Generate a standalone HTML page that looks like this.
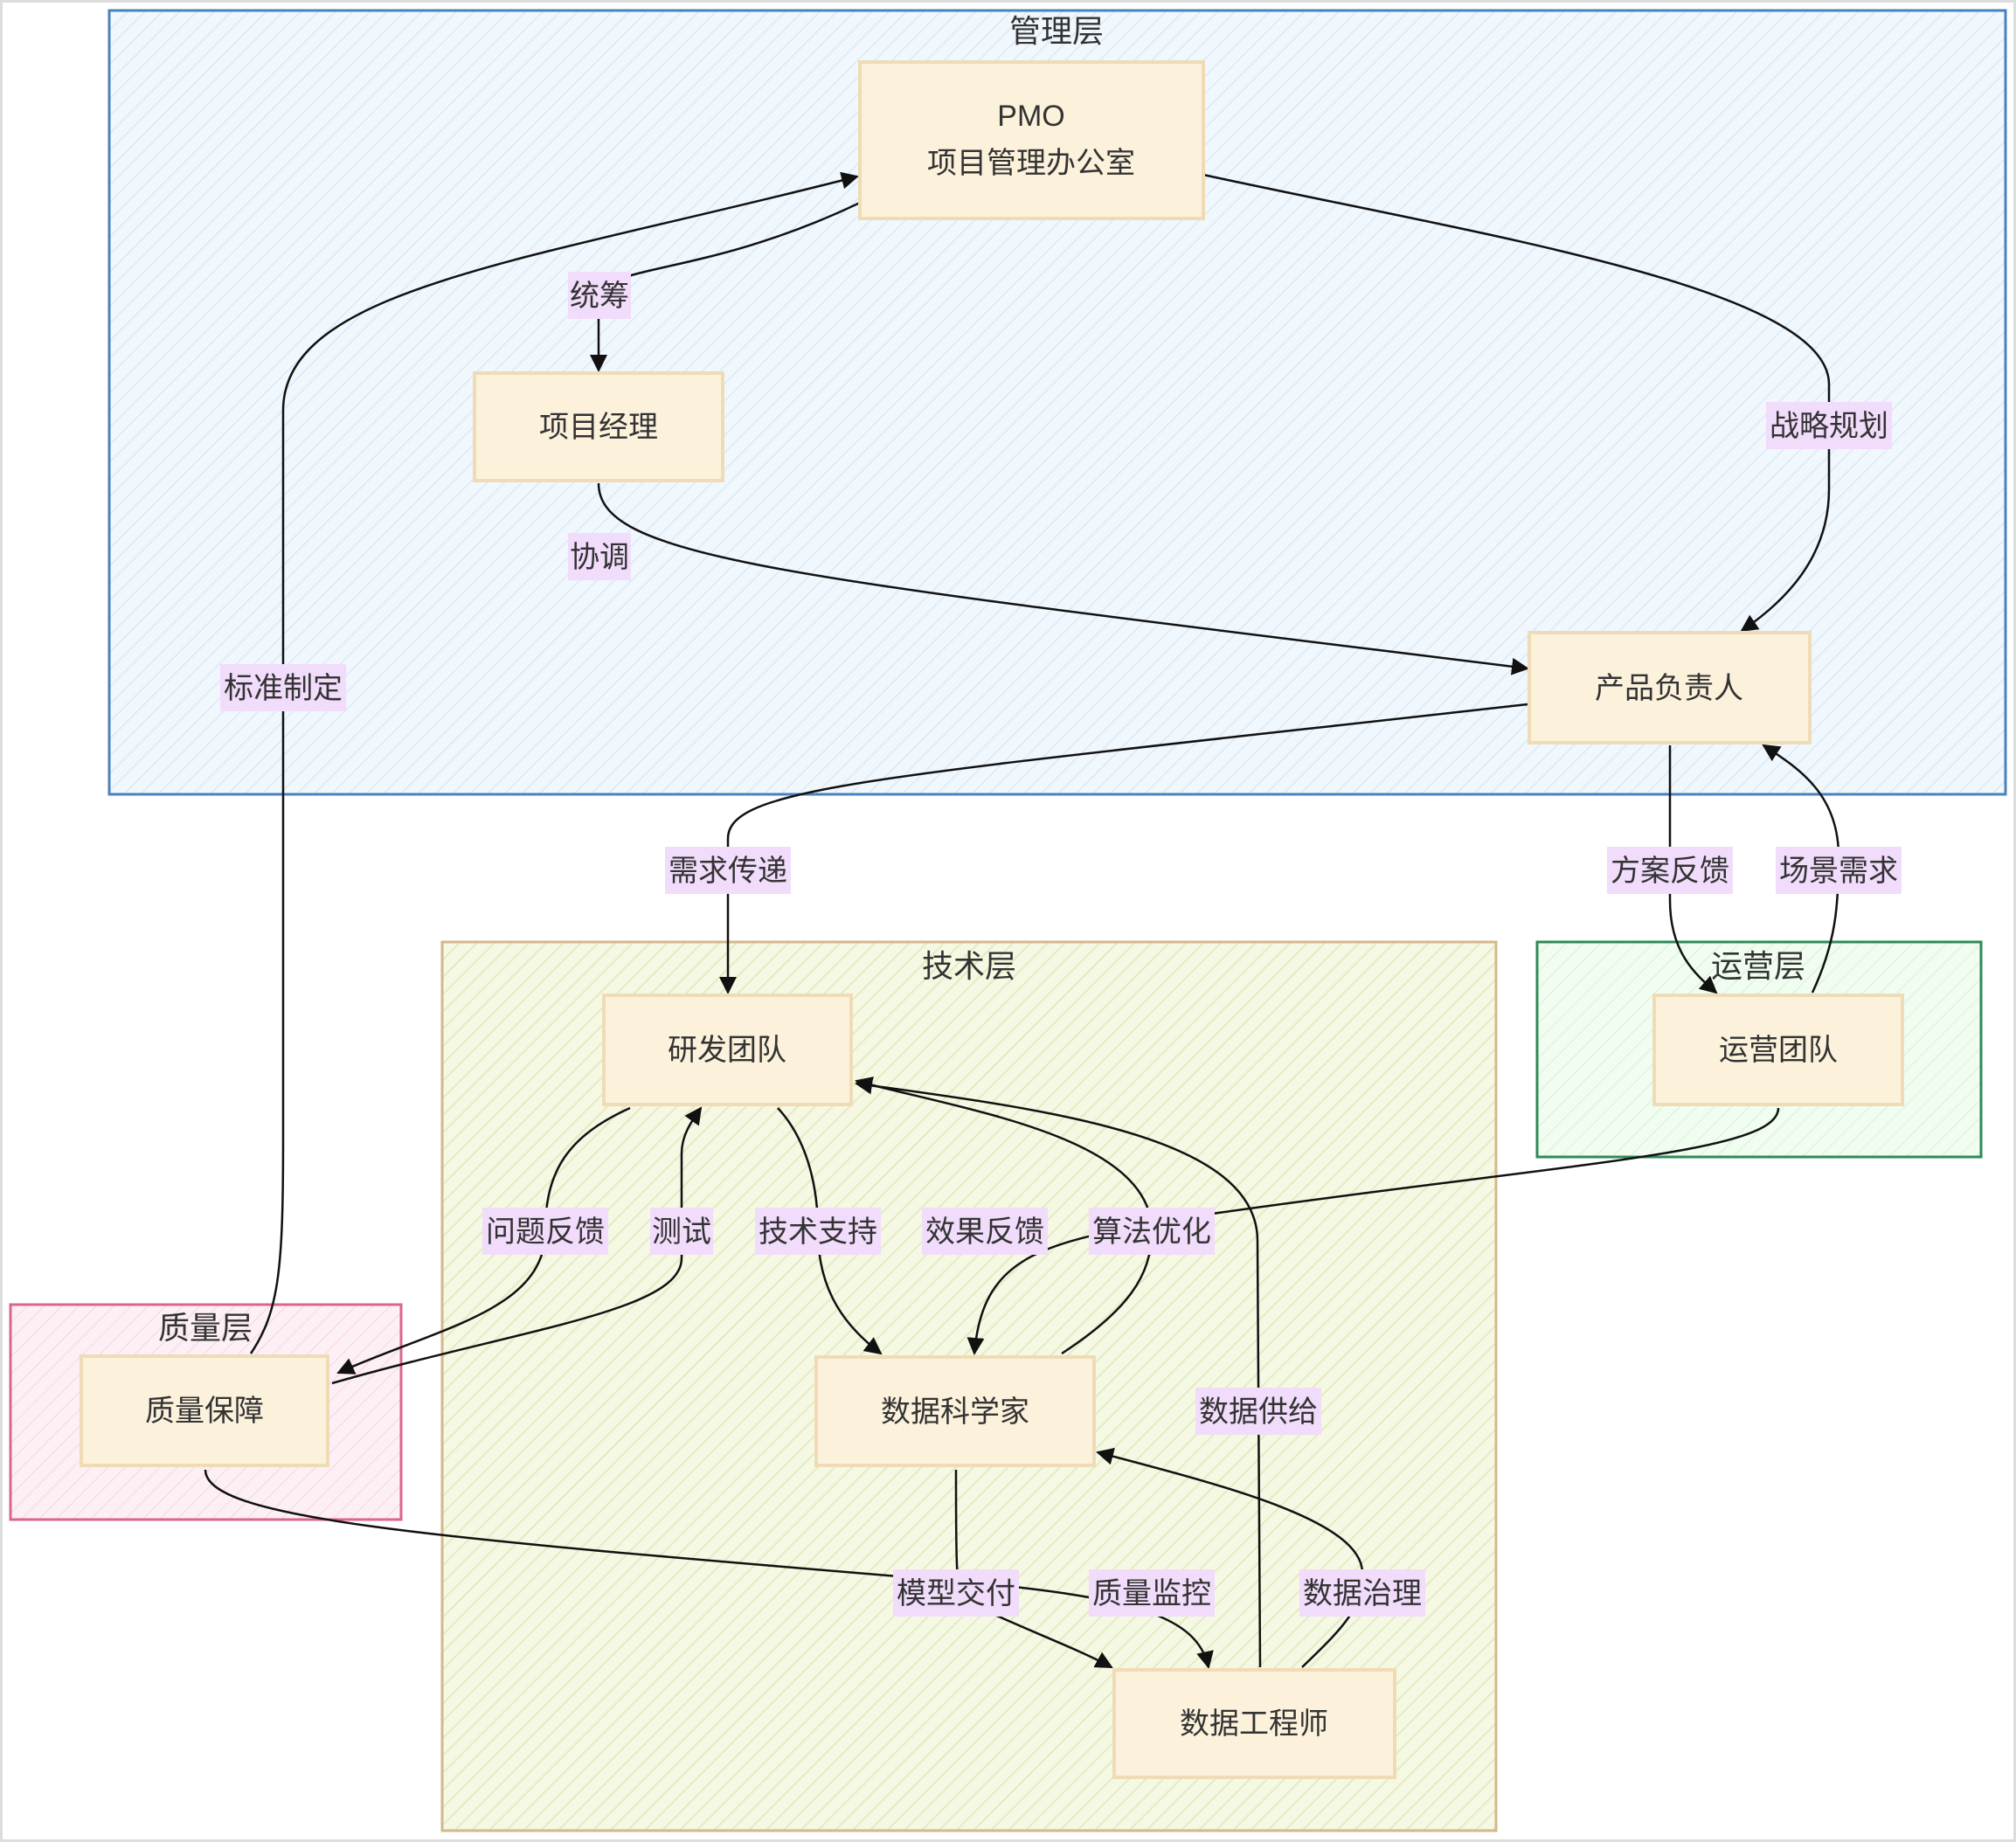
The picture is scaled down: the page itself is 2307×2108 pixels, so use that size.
<!DOCTYPE html>
<html><head><meta charset="utf-8"><style>
html,body{margin:0;padding:0;background:#fff}
svg{display:block}
text{font-family:"Liberation Sans","Noto Sans CJK SC",sans-serif;fill:#333}
</style></head><body>
<svg width="2307" height="2108" viewBox="0 0 2307 2108" xmlns="http://www.w3.org/2000/svg">
<defs>
<pattern id="hb" width="14" height="14" patternUnits="userSpaceOnUse" patternTransform="rotate(45)"><rect width="14" height="14" fill="#f0f7fd"/><line x1="0" y1="0" x2="0" y2="14" stroke="#dbeaf7" stroke-width="3"/></pattern>
<pattern id="hy" width="14" height="14" patternUnits="userSpaceOnUse" patternTransform="rotate(45)"><rect width="14" height="14" fill="#f5f8e2"/><line x1="0" y1="0" x2="0" y2="14" stroke="#e4ebc4" stroke-width="4"/></pattern>
<pattern id="hg" width="14" height="14" patternUnits="userSpaceOnUse" patternTransform="rotate(45)"><rect width="14" height="14" fill="#f0fdf0"/><line x1="0" y1="0" x2="0" y2="14" stroke="#ddf5dd" stroke-width="3"/></pattern>
<pattern id="hp" width="14" height="14" patternUnits="userSpaceOnUse" patternTransform="rotate(45)"><rect width="14" height="14" fill="#fdf0f5"/><line x1="0" y1="0" x2="0" y2="14" stroke="#f7dce8" stroke-width="3"/></pattern>
<marker id="a" viewBox="0 0 10 10" refX="9" refY="5" markerWidth="20" markerHeight="20" markerUnits="userSpaceOnUse" orient="auto"><path d="M0,0 L10,5 L0,10 z" fill="#111"/></marker>
</defs>
<rect x="0" y="0" width="2307" height="2108" fill="#fff" stroke="#ddd" stroke-width="6"/>
<rect x="125" y="12" width="2170" height="897" fill="url(#hb)" stroke="#4a82bd" stroke-width="3"/>
<text x="1209" y="48" font-size="36" text-anchor="middle" fill="#111">管理层</text>
<rect x="506" y="1078" width="1206" height="1017" fill="url(#hy)" stroke="#d2b98a" stroke-width="3"/>
<text x="1109" y="1118" font-size="36" text-anchor="middle" fill="#111">技术层</text>
<rect x="1759" y="1078" width="508" height="246" fill="url(#hg)" stroke="#2e8a57" stroke-width="3"/>
<text x="2012" y="1118" font-size="36" text-anchor="middle" fill="#111">运营层</text>
<rect x="12" y="1493" width="447" height="246" fill="url(#hp)" stroke="#d9668f" stroke-width="3"/>
<text x="235" y="1532" font-size="36" text-anchor="middle" fill="#111">质量层</text>
<g fill="none" stroke="#111" stroke-width="2.5">
<path d="M984,232 C800,320 685,300 685,345 L685,424" marker-end="url(#a)"/>
<path d="M685,553 C685,640 900,660 1748,765" marker-end="url(#a)"/>
<path d="M1377,200 C1700,270 2093,330 2093,440 L2093,560 C2093,640 2040,690 1993,722" marker-end="url(#a)"/>
<path d="M287,1549 C320,1500 324,1450 324,1300 L324,470 C324,330 600,300 981,202" marker-end="url(#a)"/>
<path d="M1748,806 C1000,890 833,900 833,960 L833,1136" marker-end="url(#a)"/>
<path d="M1911,853 L1911,1030 C1911,1090 1940,1115 1964,1136" marker-end="url(#a)"/>
<path d="M2074,1136 C2100,1080 2104,1040 2104,980 C2104,910 2060,880 2018,853" marker-end="url(#a)"/>
<path d="M721,1268 C650,1300 624,1340 624,1409 C624,1500 500,1520 387,1571" marker-end="url(#a)"/>
<path d="M380,1583 C600,1520 780,1500 780,1440 L780,1320 C780,1300 790,1285 802,1268" marker-end="url(#a)"/>
<path d="M890,1268 C920,1300 936,1350 936,1409 C936,1480 970,1520 1008,1549" marker-end="url(#a)"/>
<path d="M2035,1268 C2035,1320 1800,1330 1380,1390 C1200,1420 1125,1430 1115,1549" marker-end="url(#a)"/>
<path d="M1215,1549 C1290,1500 1318,1460 1318,1409 C1318,1300 1100,1270 980,1237" marker-end="url(#a)"/>
<path d="M1442,1908 L1439,1420 C1439,1300 1200,1270 980,1240" marker-end="url(#a)"/>
<path d="M1094,1682 C1094,1760 1094,1823 1100,1830 C1160,1860 1230,1885 1272,1908" marker-end="url(#a)"/>
<path d="M235,1682 C235,1740 500,1760 1100,1810 C1300,1828 1370,1850 1383,1908" marker-end="url(#a)"/>
<path d="M1490,1908 C1540,1860 1559,1840 1559,1800 C1559,1740 1400,1700 1256,1662" marker-end="url(#a)"/>
</g>
<g fill="#fcf2dc" stroke="#efdcb6" stroke-width="4">
<rect x="984" y="71" width="393" height="179"/>
<rect x="543" y="427" width="284" height="123"/>
<rect x="1750" y="724" width="321" height="126"/>
<rect x="691" y="1139" width="283" height="125"/>
<rect x="1893" y="1139" width="284" height="125"/>
<rect x="93" y="1552" width="282" height="125"/>
<rect x="934" y="1553" width="318" height="124"/>
<rect x="1275" y="1911" width="321" height="123"/>
</g>
<g font-size="34" text-anchor="middle">
<text x="1180" y="144">PMO</text>
<text x="1180" y="198">项目管理办公室</text>
<text x="685" y="500">项目经理</text>
<text x="1910" y="799">产品负责人</text>
<text x="832" y="1213">研发团队</text>
<text x="2035" y="1213">运营团队</text>
<text x="234" y="1626">质量保障</text>
<text x="1093" y="1627">数据科学家</text>
<text x="1435" y="1984">数据工程师</text>
</g>
<g fill="#f1dcfb">
<rect x="650" y="311" width="72" height="54"/>
<rect x="650" y="610" width="72" height="54"/>
<rect x="2021" y="460" width="144" height="54"/>
<rect x="252" y="760" width="144" height="54"/>
<rect x="761" y="969" width="144" height="54"/>
<rect x="1839" y="969" width="144" height="54"/>
<rect x="2032" y="969" width="144" height="54"/>
<rect x="552" y="1382" width="144" height="54"/>
<rect x="744" y="1382" width="72" height="54"/>
<rect x="864" y="1382" width="144" height="54"/>
<rect x="1055" y="1382" width="144" height="54"/>
<rect x="1246" y="1382" width="144" height="54"/>
<rect x="1368" y="1588" width="144" height="54"/>
<rect x="1022" y="1796" width="144" height="54"/>
<rect x="1246" y="1796" width="144" height="54"/>
<rect x="1487" y="1796" width="144" height="54"/>
</g>
<g font-size="34" text-anchor="middle">
<text x="686" y="350">统筹</text>
<text x="686" y="649">协调</text>
<text x="2093" y="499">战略规划</text>
<text x="324" y="799">标准制定</text>
<text x="833" y="1008">需求传递</text>
<text x="1911" y="1008">方案反馈</text>
<text x="2104" y="1008">场景需求</text>
<text x="624" y="1421">问题反馈</text>
<text x="780" y="1421">测试</text>
<text x="936" y="1421">技术支持</text>
<text x="1127" y="1421">效果反馈</text>
<text x="1318" y="1421">算法优化</text>
<text x="1440" y="1627">数据供给</text>
<text x="1094" y="1835">模型交付</text>
<text x="1318" y="1835">质量监控</text>
<text x="1559" y="1835">数据治理</text>
</g>
</svg>
</body></html>
